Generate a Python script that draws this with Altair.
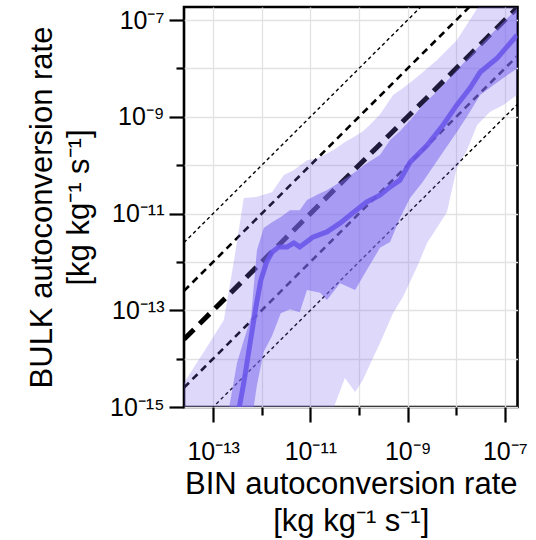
import altair as alt
import pandas as pd

# ---- data (log10 values) ----
outer_x = [-13.60, -13.19, -12.78, -12.57, -12.37, -12.12, -11.79, -11.55, -11.34, -11.07,
           -10.87, -10.60, -10.50, -10.29, -10.08, -9.92, -9.78, -9.57, -9.30, -9.10,
           -8.81, -8.60, -8.40, -8.19, -7.99, -7.78, -7.57, -7.31, -7.04, -6.75]
outer_hi = [-14.50, -13.86, -13.20, -11.96, -10.68, -10.66, -10.56, -10.21, -10.10, -9.90,
            -9.86, -9.73, -9.67, -9.52, -9.40, -9.30, -9.17, -8.95, -8.55, -8.41,
            -8.18, -8.00, -7.83, -7.62, -7.42, -7.09, -6.76, -6.38, -6.07, -5.76]
outer_lo = [-16.0, -16.0, -16.0, -16.0, -16.0, -16.0, -16.0, -16.0, -16.0, -16.0,
            -16.0, -16.0, -14.96, -14.40, -14.69, -14.44, -14.13, -13.68, -13.06, -12.73,
            -12.11, -11.61, -11.30, -10.97, -10.06, -9.69, -9.17, -8.90, -8.76, -8.55]

inner_x = [-12.68, -12.51, -12.37, -12.22, -12.10, -11.96, -11.79, -11.61, -11.42, -11.22,
           -11.07, -10.80, -10.66, -10.39, -10.08, -9.84, -9.57, -9.36, -9.16, -8.95,
           -8.69, -8.27, -7.99, -7.72, -7.51, -7.16, -6.75]
inner_hi = [-15.06, -14.09, -13.62, -13.14, -11.76, -11.30, -11.18, -11.07, -10.93, -10.93,
            -10.72, -10.58, -10.52, -10.35, -10.14, -9.96, -9.79, -9.48, -9.30, -9.07,
            -8.76, -8.35, -8.04, -7.75, -7.52, -7.17, -6.76]
inner_lo = [-16.0, -16.0, -16.0, -15.37, -14.55, -13.86, -13.53, -13.06, -12.98, -13.04,
            -12.58, -12.64, -12.79, -12.44, -12.58, -12.17, -11.71, -11.59, -11.10, -10.68,
            -10.35, -9.73, -9.32, -8.90, -8.55, -8.29, -8.00]

median_x = [-12.53, -12.37, -12.22, -12.12, -12.02, -11.90, -11.79, -11.65, -11.48, -11.34,
            -11.22, -10.95, -10.66, -10.39, -10.13, -9.84, -9.57, -9.36, -9.16, -8.95,
            -8.60, -8.27, -7.99, -7.72, -7.51, -7.16, -6.75]
median_y = [-15.37, -14.50, -13.55, -12.93, -12.38, -12.00, -11.80, -11.69, -11.69, -11.61,
            -11.69, -11.49, -11.38, -11.20, -10.99, -10.76, -10.62, -10.45, -10.31, -9.94,
            -9.59, -9.17, -8.76, -8.41, -8.08, -7.79, -7.31]

ref_offsets = [-2, -1, 0, 1, 2]          # decades away from the 1:1 line
x_lim = [-13.6, -6.74]
y_lim = [-15.0, -6.73]
x_tick_exp = [-13, -12, -11, -10, -9, -8, -7]
y_tick_exp = [-15, -14, -13, -12, -11, -10, -9, -8, -7]

x_title = ["BIN autoconversion rate", "[kg kg⁻¹ s⁻¹]"]
y_title = ["BULK autoconversion rate", "[kg kg⁻¹ s⁻¹]"]

# ---- build tables ----
p = lambda v: 10.0 ** v
outer_df = pd.DataFrame({"x": [p(v) for v in outer_x], "lo": [p(v) for v in outer_lo], "hi": [p(v) for v in outer_hi]})
inner_df = pd.DataFrame({"x": [p(v) for v in inner_x], "lo": [p(v) for v in inner_lo], "hi": [p(v) for v in inner_hi]})
med_df = pd.DataFrame({"x": [p(v) for v in median_x], "y": [p(v) for v in median_y]})
ref_rows = []
for k in ref_offsets:
    for xe in x_lim:
        ref_rows.append({"k": k, "x": p(xe), "y": p(xe + k)})
ref_df = pd.DataFrame(ref_rows)

SUP = {"-": "⁻", "0": "⁰", "1": "¹", "2": "²", "3": "³", "4": "⁴",
       "5": "⁵", "6": "⁶", "7": "⁷", "8": "⁸", "9": "⁹"}
def sup(n):
    return "".join(SUP[c] for c in str(n))

E = "round(log(datum.value)/LN10)"
def label_expr(exps):
    parts = []
    for e in exps:
        if e % 2 != 0:
            parts.append(f"{E} == {e} ? '10{sup(e)}'")
    return " : ".join(parts) + " : ''"

tick_cond = {"condition": {"test": f"abs({E}) % 2 == 1", "value": 15}, "value": 8}

FONT = "Liberation Sans"
xscale = alt.Scale(type="log", domain=[p(x_lim[0]), p(x_lim[1])], nice=False)
yscale = alt.Scale(type="log", domain=[p(y_lim[0]), p(y_lim[1])], nice=False)

common_axis = dict(grid=True, gridColor="#e2e2e2", gridWidth=1.3, domain=False,
                   tickColor="black", tickWidth=2.2, tickSize=tick_cond,
                   labelFont=FONT, labelFontSize=25, labelColor="black",
                   titleFont=FONT, titleFontSize=31, titleFontWeight="normal",
                   titleColor="black", titleLineHeight=37)

xaxis = alt.Axis(values=[p(e) for e in x_tick_exp], labelExpr=label_expr(x_tick_exp),
                 title=x_title, labelPadding=17, titlePadding=5, labelFlush=False,
                 **common_axis)
yaxis = alt.Axis(values=[p(e) for e in y_tick_exp], labelExpr=label_expr(y_tick_exp),
                 title=y_title, labelPadding=5, titlePadding=14, labelFlush=False,
                 **common_axis)

X = alt.X("x:Q", scale=xscale, axis=xaxis)
Y = alt.Y("y:Q", scale=yscale, axis=yaxis)

styles = {2: (1.4, [3.5, 3.0]), 1: (2.6, [7, 5]), 0: (5.0, [14, 8])}
ref_layers = []
for k in ref_offsets:
    w, dash = styles[abs(k)]
    ref_layers.append(
        alt.Chart(ref_df).transform_filter(f"datum.k == {k}")
        .mark_line(color="black", strokeWidth=w, strokeDash=dash, clip=True)
        .encode(x=X, y=Y)
    )

outer = alt.Chart(outer_df).mark_area(color="#7B68EE", opacity=0.25, clip=True).encode(
    x=X, y=alt.Y("lo:Q", scale=yscale, axis=yaxis), y2="hi:Q")
inner = alt.Chart(inner_df).mark_area(color="#7B68EE", opacity=0.55, clip=True).encode(
    x=X, y=alt.Y("lo:Q", scale=yscale, axis=yaxis), y2="hi:Q")
median = alt.Chart(med_df).mark_line(color="#6A58EA", strokeWidth=5, opacity=0.9, clip=True).encode(
    x=X, y=Y)

chart = alt.layer(*ref_layers, outer, inner, median).properties(
    width=333.5, height=400,
    background="white",
    autosize=alt.AutoSizeParams(type="none"),
    padding={"left": 184, "top": 7, "right": 18, "bottom": 133},
).configure_view(stroke="black", strokeWidth=2.6)

chart.save("out.html", embed_options={"renderer": "svg", "actions": False})
